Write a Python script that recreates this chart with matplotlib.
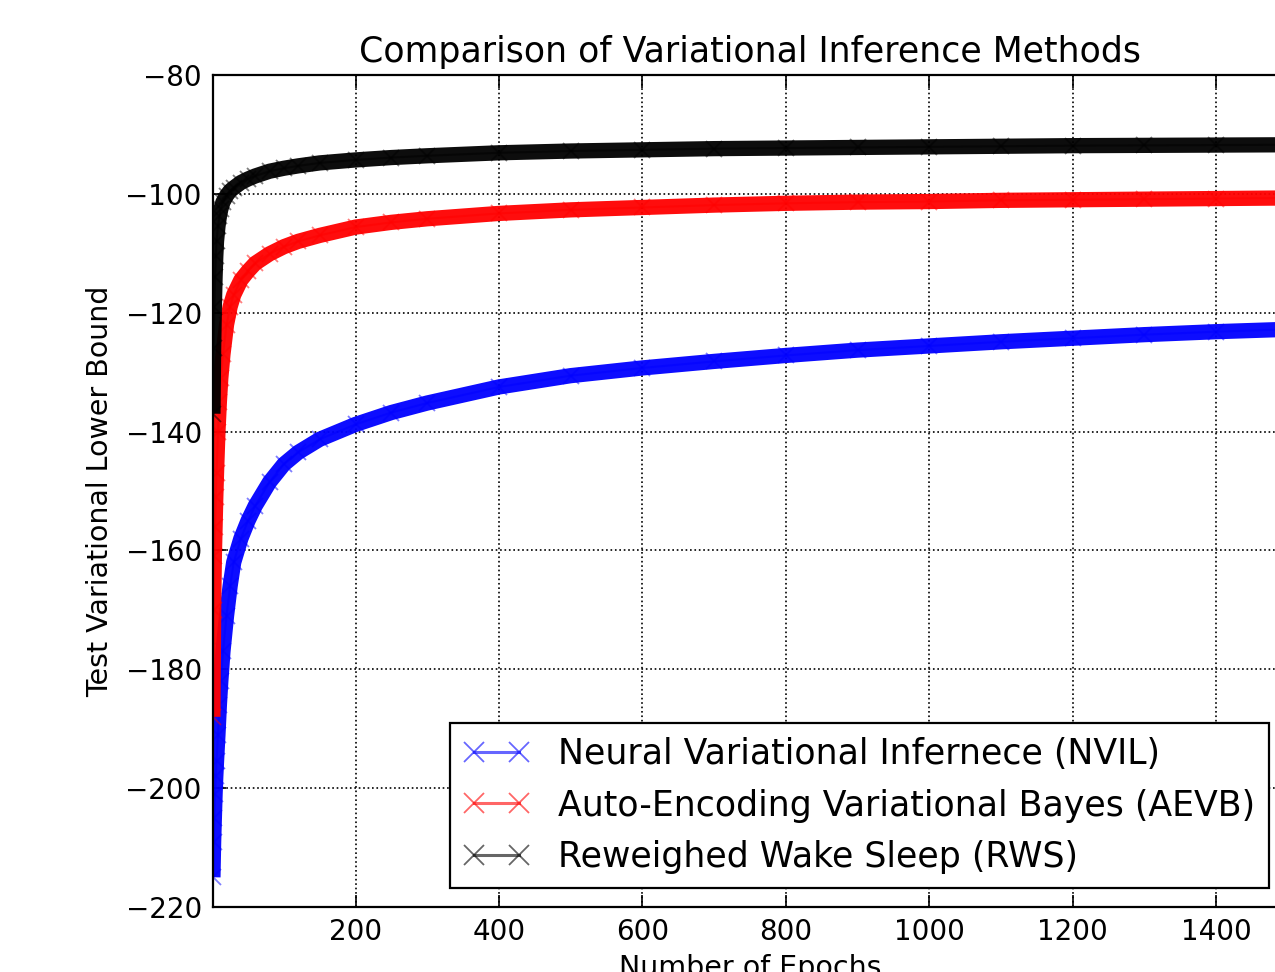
import numpy as np
import matplotlib
matplotlib.use("Agg")
import matplotlib.pyplot as plt
from matplotlib.lines import Line2D

epochs=[1,2,3,4,5,6,8,10,12,15,20,25,30,40,50,60,80,100,120,150,200,250,300,400,500,600,700,800,900,1000,1100,1200,1300,1400,1500]

nvil=[-215,-209,-205,-201,-198,-195.5,-191,-186,-182,-177,-171,-166,-162,-158,-155,-152.5,-148.5,-145.5,-143.5,-141.3,-138.8,-136.8,-135.2,-132.5,-130.6,-129.3,-128.2,-127.2,-126.3,-125.6,-124.9,-124.3,-123.7,-123.2,-122.8]
aevb=[-188,-170,-161,-156,-151,-147,-140,-135,-131,-127,-122,-119,-117,-114.5,-113,-111.7,-110.1,-108.9,-108,-107,-105.6,-104.8,-104.2,-103.3,-102.7,-102.3,-101.9,-101.6,-101.4,-101.3,-101.1,-101.0,-100.9,-100.8,-100.7]
rws=[-137,-126,-119,-114,-110.5,-108,-105.5,-103.8,-102.6,-101.4,-100.3,-99.5,-99,-98.1,-97.5,-97,-96.2,-95.7,-95.3,-94.8,-94.3,-93.9,-93.6,-93.1,-92.8,-92.6,-92.4,-92.3,-92.2,-92.1,-92.0,-91.9,-91.85,-91.8,-91.75]

labels=["Neural Variational Infernece (NVIL)","Auto-Encoding Variational Bayes (AEVB)","Reweighed Wake Sleep (RWS)"]
colors=["blue","red","black"]

def main():
	fig=plt.figure(figsize=(12.75,9.72),dpi=100)
	ax=fig.add_axes([0.167,0.0669,0.843,0.856])

	handles=[]
	for vals,col,lab in zip([nvil,aevb,rws],colors,labels):
		# thick band standing in for the dense per-epoch markers
		ax.plot(epochs,vals,color=col,lw=11,solid_capstyle="butt",solid_joinstyle="round",alpha=0.95)
		ax.plot(epochs,vals,color=col,lw=1.5,marker="x",ms=11,mew=1.3,alpha=0.5)
		handles.append(Line2D([],[],color=col,lw=2.2,marker="x",ms=14,mew=1.3,alpha=0.6))

	ax.set_xlim(1,1500)
	ax.set_ylim(-220,-80)
	ax.set_xticks([200,400,600,800,1000,1200,1400])
	ax.set_yticks(np.arange(-220,-79,20))
	ax.grid(True,ls=":",color="black",lw=1.2)
	ax.tick_params(direction="in",length=9,width=1.2,labelsize=20,top=True,right=True)
	ax.tick_params(axis="y",pad=8)
	ax.tick_params(axis="x",pad=8)
	for sp in ax.spines.values():
		sp.set_linewidth(1.6)

	ax.set_title("Comparison of Variational Inference Methods",fontsize=25,pad=9)
	ax.set_xlabel("Number of Epochs",fontsize=20.5,labelpad=6)
	ax.set_ylabel("Test Variational Lower Bound",fontsize=20.5,labelpad=8)

	leg=ax.legend(handles,labels,loc="lower right",fontsize=25,numpoints=2,
		fancybox=False,framealpha=1,edgecolor="black",borderaxespad=0.55,handlelength=1.9)
	leg.get_frame().set_linewidth(1.6)

	fig.savefig("out.png",dpi=100)

main()
